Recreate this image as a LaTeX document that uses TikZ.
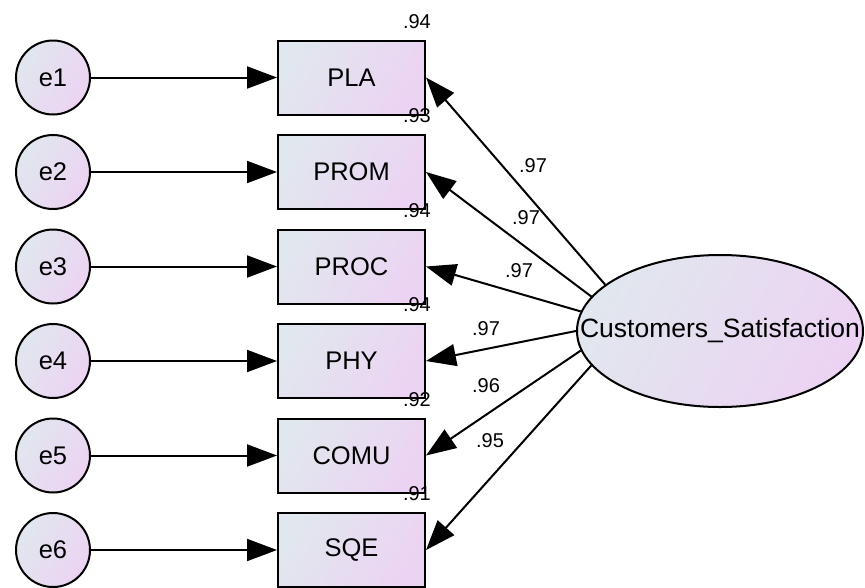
\documentclass[tikz,border=0pt]{standalone}
\usepackage{fontspec}
\setmainfont{Liberation Sans}
\usetikzlibrary{arrows.meta,shapes.geometric}

\definecolor{fillA}{RGB}{225,231,238}
\definecolor{fillB}{RGB}{236,211,243}

\tikzset{
  shadefill/.style={left color=fillA, right color=fillB, shading angle=60},
  obsbox/.style={draw=black, line width=2pt, shadefill, rectangle,
    minimum width=147pt, minimum height=74pt, inner sep=0pt,
    font=\fontsize{25.5}{28}\selectfont},
  errcirc/.style={draw=black, line width=2pt, shadefill, circle,
    minimum size=74pt, inner sep=0pt, font=\fontsize{25.5}{28}\selectfont},
  latent/.style={draw=black, line width=2pt, shadefill, ellipse,
    minimum width=286pt, minimum height=152pt, inner sep=0pt,
    font=\fontsize{26.5}{28}\selectfont},
  arr/.style={line width=2pt, -{Triangle[length=30pt,width=22pt]}},
  coef/.style={inner sep=0pt, font=\fontsize{20}{22}\selectfont},
  rsq/.style={inner sep=0pt, anchor=base east, font=\fontsize{20}{22}\selectfont},
}

\begin{document}
\begin{tikzpicture}[x=1pt, y=-1pt]
\useasboundingbox (0,0) rectangle (865,587);

% latent factor (text boxed to zero width so the ellipse keeps its set size)
\node[latent] (CS) at (720,331) {\makebox[0pt]{Customers\_Satisfaction}};

% observed indicators
\node[obsbox] (PLA)  at (351.5,77.5)  {PLA};
\node[obsbox] (PROM) at (351.5,172)   {PROM};
\node[obsbox] (PROC) at (351.5,266.5) {PROC};
\node[obsbox] (PHY)  at (351.5,361)   {PHY};
\node[obsbox] (COMU) at (351.5,455.5) {COMU};
\node[obsbox] (SQE)  at (351.5,550)   {SQE};

% error terms
\node[errcirc] (e1) at (53,77.5)  {e1};
\node[errcirc] (e2) at (53,172)   {e2};
\node[errcirc] (e3) at (53,266.5) {e3};
\node[errcirc] (e4) at (53,361)   {e4};
\node[errcirc] (e5) at (53,455.5) {e5};
\node[errcirc] (e6) at (53,550)   {e6};

% error paths
\draw[arr] (e1) -- (PLA);
\draw[arr] (e2) -- (PROM);
\draw[arr] (e3) -- (PROC);
\draw[arr] (e4) -- (PHY);
\draw[arr] (e5) -- (COMU);
\draw[arr] (e6) -- (SQE);

% factor loadings
\draw[arr] (CS.158.9) -- (PLA.east);
\draw[arr] (CS.165.2) -- (PROM.east);
\draw[arr] (CS.172.4) -- (PROC.east);
\draw[arr] (CS.180.4) -- (PHY.east);
\draw[arr] (CS.188.8) -- (COMU.east);
\draw[arr] (CS.195.4) -- (SQE.east);

% standardized loadings
\node[coef] (l1) at (533,166) {.97};
\node[coef] (l2) at (526,218) {.97};
\node[coef] (l3) at (519,271) {.97};
\node[coef] (l4) at (486,329) {.97};
\node[coef] (l5) at (486,386) {.96};
\node[coef] (l6) at (490,441) {.95};

% squared multiple correlations
\node[rsq] (r1) at (431,28)    {.94};
\node[rsq] (r2) at (431,122.5) {.93};
\node[rsq] (r3) at (431,217)   {.94};
\node[rsq] (r4) at (431,311.5) {.94};
\node[rsq] (r5) at (431,406)   {.92};
\node[rsq] (r6) at (431,500.5) {.91};
\end{tikzpicture}
\end{document}
